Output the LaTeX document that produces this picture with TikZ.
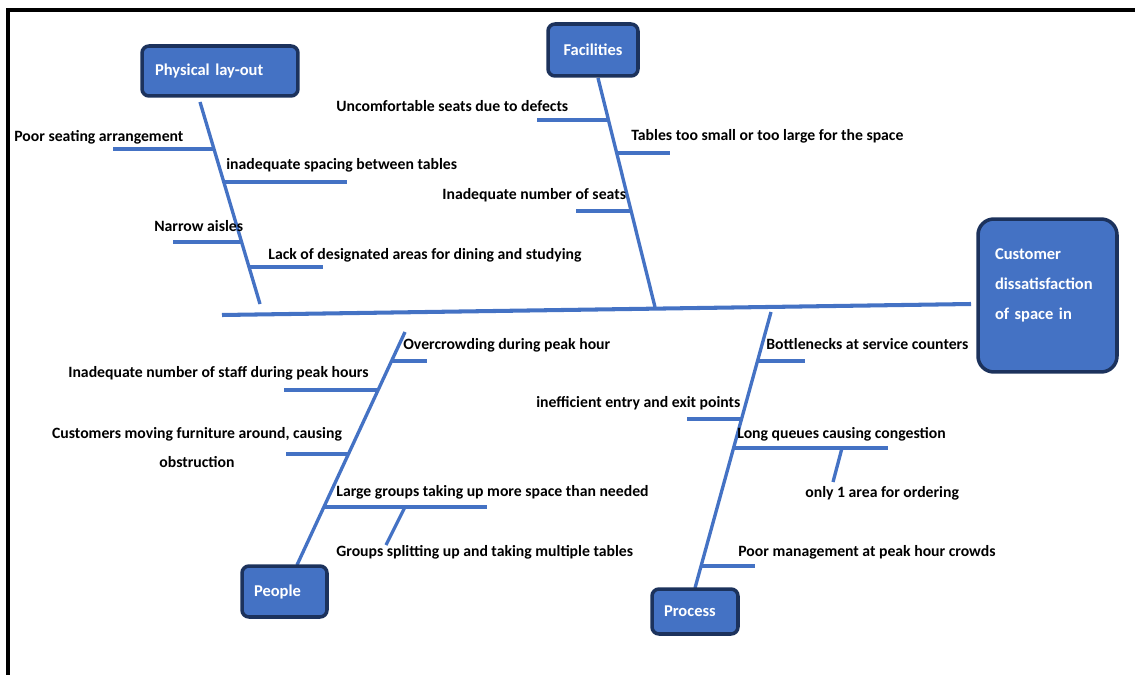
\documentclass[tikz,border=0pt]{standalone}
\usepackage{fontspec}
\setmainfont{Carlito}
\usepackage{tikz}
\usetikzlibrary{calc}
\definecolor{boneblue}{RGB}{68,114,196}
\definecolor{boxedge}{RGB}{28,50,92}

\begin{document}
\begin{tikzpicture}[x=0.02cm,y=-0.02cm,
    bone/.style={line width=1.9pt,boneblue},
    spine/.style={line width=2.3pt,boneblue},
    catbox/.style={draw=boxedge,fill=boneblue,line width=2pt,rounded corners=4pt,
      text=white,font=\bfseries\fontsize{9.4}{17}\selectfont,align=left,inner ysep=0pt},
    cause/.style={font=\bfseries\fontsize{8.95}{16.5}\selectfont,inner sep=0pt,anchor=west}]
   \useasboundingbox (0,0) rectangle (1135,675);

   % frame
   \draw[line width=1.8pt] (1135,10) -- (8,10) -- (8,675);

   % bone ends
   \path
    (222,315) coordinate (sp-l)
    (971,304) coordinate (sp-r)
    (200,102) coordinate (pl-top)
    (260,304) coordinate (pl-bot)
    (598,78)  coordinate (fa-top)
    (655,307) coordinate (fa-bot)
    (405,332) coordinate (pe-top)
    (297,565) coordinate (pe-bot)
    (771,312) coordinate (pr-top)
    (695,588) coordinate (pr-bot);

   % where the ribs leave the bones
   \path
    (intersection of pl-top--pl-bot and 0,149--1,149) coordinate (pl1)
    (intersection of pl-top--pl-bot and 0,182--1,182) coordinate (pl2)
    (intersection of pl-top--pl-bot and 0,242--1,242) coordinate (pl3)
    (intersection of pl-top--pl-bot and 0,267--1,267) coordinate (pl4)
    (intersection of fa-top--fa-bot and 0,120--1,120) coordinate (fa1)
    (intersection of fa-top--fa-bot and 0,153--1,153) coordinate (fa2)
    (intersection of fa-top--fa-bot and 0,211--1,211) coordinate (fa3)
    (intersection of pe-top--pe-bot and 0,361--1,361) coordinate (pe1)
    (intersection of pe-top--pe-bot and 0,390--1,390) coordinate (pe2)
    (intersection of pe-top--pe-bot and 0,454--1,454) coordinate (pe3)
    (intersection of pe-top--pe-bot and 0,507--1,507) coordinate (pe4)
    (intersection of pr-top--pr-bot and 0,361--1,361) coordinate (pr1)
    (intersection of pr-top--pr-bot and 0,419--1,419) coordinate (pr2)
    (intersection of pr-top--pr-bot and 0,448--1,448) coordinate (pr3)
    (intersection of pr-top--pr-bot and 0,566--1,566) coordinate (pr4);

   % free ends of the ribs
   \path
    (pl1 -| 113,0) coordinate (pl1e)
    (pl2 -| 347,0) coordinate (pl2e)
    (pl3 -| 173,0) coordinate (pl3e)
    (pl4 -| 323,0) coordinate (pl4e)
    (fa1 -| 537,0) coordinate (fa1e)
    (fa2 -| 670,0) coordinate (fa2e)
    (fa3 -| 576,0) coordinate (fa3e)
    (pe1 -| 427,0) coordinate (pe1e)
    (pe2 -| 284,0) coordinate (pe2e)
    (pe3 -| 286,0) coordinate (pe3e)
    (pe4 -| 487,0) coordinate (pe4e)
    (405,507) coordinate (pe5)
    (386,545) coordinate (pe5e)
    (pr1 -| 805,0) coordinate (pr1e)
    (pr2 -| 687,0) coordinate (pr2e)
    (pr3 -| 888,0) coordinate (pr3e)
    (pr4 -| 755,0) coordinate (pr4e)
    (842,448) coordinate (pr5)
    (833,482) coordinate (pr5e);

   % spine and bones
   \draw[spine] (sp-l) -- (sp-r);
   \draw[bone] (pl-top) -- (pl-bot);
   \draw[bone] (fa-top) -- (fa-bot);
   \draw[bone] (pe-top) -- (pe-bot);
   \draw[bone] (pr-top) -- (pr-bot);

   % ribs
   \draw[bone] (pl1) -- (pl1e);
   \draw[bone] (pl2) -- (pl2e);
   \draw[bone] (pl3) -- (pl3e);
   \draw[bone] (pl4) -- (pl4e);
   \draw[bone] (fa1) -- (fa1e);
   \draw[bone] (fa2) -- (fa2e);
   \draw[bone] (fa3) -- (fa3e);
   \draw[bone] (pe1) -- (pe1e);
   \draw[bone] (pe2) -- (pe2e);
   \draw[bone] (pe3) -- (pe3e);
   \draw[bone] (pe4) -- (pe4e);
   \draw[bone] (pe5) -- (pe5e);
   \draw[bone] (pr1) -- (pr1e);
   \draw[bone] (pr2) -- (pr2e);
   \draw[bone] (pr3) -- (pr3e);
   \draw[bone] (pr4) -- (pr4e);
   \draw[bone] (pr5) -- (pr5e);

   % category boxes
   \node[catbox,minimum width=3.12cm,minimum height=1cm,text width=2.6cm] (phys) at (220,71) {Physical lay-out};
   \node[catbox,minimum width=1.8cm,minimum height=1.04cm] (fac) at (593,50) {Facilities};
   \node[catbox,minimum width=1.7cm,minimum height=1.02cm,text width=1.22cm] (peo) at (284.5,591.5) {People};
   \node[catbox,minimum width=1.72cm,minimum height=0.9cm,text width=1.24cm] (proc) at (695,611.5) {Process};
   \node[catbox,rounded corners=9pt,minimum width=2.78cm,minimum height=3.06cm,text width=2.1cm] (cust) at (1047.5,295.5)
     {Customer\\dissatisfaction\\of space in\rule[-12.6pt]{0pt}{12.6pt}};

   % causes
   \node[cause] (t-pl1) at (14,137) {Poor seating arrangement};
   \node[cause] (t-pl2) at (226,165) {inadequate spacing between tables};
   \node[cause] (t-pl3) at (154,226) {Narrow aisles};
   \node[cause] (t-pl4) at (268,255) {Lack of designated areas for dining and studying};
   \node[cause] (t-fa1) at (336,106) {Uncomfortable seats due to defects};
   \node[cause] (t-fa2) at (631,136) {Tables too small or too large for the space};
   \node[cause] (t-fa3) at (442,195) {Inadequate number of seats};
   \node[cause] (t-pe1) at (403,345) {Overcrowding during peak hour};
   \node[cause] (t-pe2) at (68,373) {Inadequate number of staff during peak hours};
   \node[cause,anchor=center,align=center] (t-pe3) at (197,448) {Customers moving furniture around, causing\\obstruction};
   \node[cause] (t-pe4) at (336,492) {Large groups taking up more space than needed};
   \node[cause] (t-pe5) at (336,552) {Groups splitting up and taking multiple tables};
   \node[cause] (t-pr1) at (766,344) {Bottlenecks at service counters};
   \node[cause] (t-pr2) at (536,403) {inefficient entry and exit points};
   \node[cause] (t-pr3) at (737,434) {Long queues causing congestion};
   \node[cause] (t-pr4) at (805,493) {only 1 area for ordering};
   \node[cause] (t-pr5) at (738,552) {Poor management at peak hour crowds};
\end{tikzpicture}
\end{document}
